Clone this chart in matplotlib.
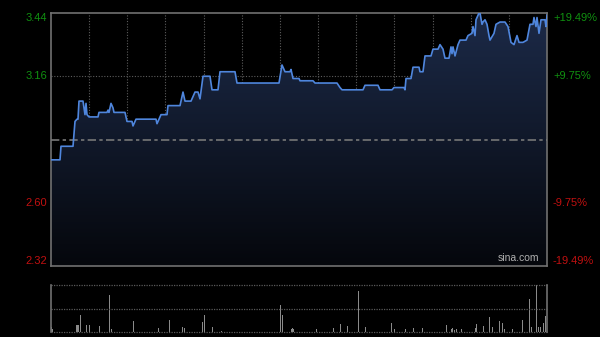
'''Intraday price and volume chart (sina.com style).'''

# ----------------------------------------------------------------------------
# Modules
from matplotlib import pyplot as plt
from matplotlib.colors import LinearSegmentedColormap
import numpy as np

# ----------------------------------------------------------------------------
# Data

prev_close = 2.88
price_ticks = [3.44, 3.16, 2.60, 2.32]
pct_labels = ['+19.49%', '+9.75%', '-9.75%', '-19.49%']
n_ticks = 496

price_t = [0, 9, 10, 22, 24, 26, 27, 28, 32, 34, 35, 36, 38, 47, 48, 56, 57,
           58, 60, 62, 63, 74, 76, 81, 82, 85, 105, 106, 110, 116, 117, 129,
           132, 134, 140, 141, 144, 147, 149, 152, 159, 161, 167, 169, 184,
           186, 228, 231, 234, 239, 240, 242, 248, 249, 262, 264, 286, 289,
           291, 312, 314, 327, 329, 341, 343, 353, 354, 355, 360, 362, 368,
           369, 372, 374, 380, 382, 387, 389, 392, 394, 398, 400, 401, 402,
           404, 407, 409, 415, 417, 421, 422, 424, 425, 428, 429, 431, 432,
           434, 436, 438, 439, 443, 445, 449, 454, 457, 460, 463, 466, 468,
           472, 476, 479, 482, 483, 485, 486, 488, 490, 494, 495, 496]
price = [2.79, 2.79, 2.85, 2.85, 2.96, 2.97, 2.97, 3.05, 3.05, 2.99, 3.04,
         2.99, 2.98, 2.98, 3.00, 3.00, 3.01, 3.00, 3.04, 3.02, 3.00, 3.00,
         2.96, 2.96, 2.94, 2.97, 2.97, 2.95, 2.99, 2.99, 3.03, 3.03, 3.09,
         3.05, 3.05, 3.06, 3.09, 3.09, 3.06, 3.16, 3.16, 3.10, 3.10, 3.18,
         3.18, 3.13, 3.13, 3.21, 3.18, 3.18, 3.19, 3.15, 3.15, 3.14, 3.14,
         3.13, 3.13, 3.11, 3.10, 3.10, 3.12, 3.12, 3.10, 3.10, 3.11, 3.11,
         3.10, 3.15, 3.15, 3.20, 3.20, 3.18, 3.18, 3.25, 3.25, 3.28, 3.28,
         3.30, 3.28, 3.24, 3.24, 3.29, 3.26, 3.29, 3.25, 3.30, 3.32, 3.32,
         3.34, 3.35, 3.38, 3.34, 3.41, 3.44, 3.44, 3.39, 3.40, 3.41, 3.39,
         3.34, 3.32, 3.35, 3.39, 3.40, 3.40, 3.38, 3.31, 3.30, 3.34, 3.31,
         3.31, 3.32, 3.39, 3.39, 3.42, 3.38, 3.42, 3.35, 3.41, 3.41, 3.38,
         3.43]

vol_t = [0, 1, 25, 26, 27, 29, 35, 38, 48, 58, 60, 82, 107, 118, 131, 133,
         151, 153, 161, 170, 229, 231, 240, 241, 242, 265, 282, 289, 296, 307,
         314, 340, 343, 354, 362, 371, 395, 400, 401, 403, 405, 410, 424, 425,
         432, 438, 441, 448, 451, 453, 461, 471, 478, 480, 485, 487, 489, 492,
         494, 496]
volume = [5, 3, 7, 7, 7, 17, 7, 7, 6, 37, 3, 11, 4, 12, 5, 4,
          10, 17, 5, 1, 27, 17, 3, 4, 3, 3, 4, 8, 6, 41,
          5, 9, 3, 3, 4, 4, 7, 3, 4, 2, 3, 3, 4, 8,
          6, 15, 5, 11, 9, 3, 3, 12, 33, 5, 47, 5, 5, 9,
          16, 21]

# ----------------------------------------------------------------------------


def intraday_plot():
    """Plots the intraday price line with a gradient fill and the volume."""

    fig = plt.figure(figsize=(6, 3.37), dpi=100, facecolor='black')
    ax = fig.add_axes([51 / 600, 1 - 266 / 337, 496 / 600, 253 / 337])
    ax_v = fig.add_axes([51 / 600, 1 - 332 / 337, 496 / 600, 47 / 337])

    y_min, y_max = price_ticks[-1], price_ticks[0]
    grid_kw = dict(color='#5c5c5c', lw=0.8, ls=(0, (1, 1.5)))

    # Price panel
    ax.set_facecolor('black')
    ax.set_xlim(0, n_ticks)
    ax.set_ylim(y_min, y_max)
    for i in range(1, 13):
        ax.axvline(n_ticks * i / 13, **grid_kw, zorder=1)
    for val in price_ticks[1:3]:
        ax.axhline(val, **grid_kw, zorder=1)
    ax.axhline(prev_close, color='#777777', lw=1.2, ls=(0, (5, 2, 2, 2)),
               zorder=4)

    cmap = LinearSegmentedColormap.from_list('fill', ['#05070c', '#1c2a48'])
    grad = np.linspace(0, 1, 256).reshape(-1, 1)
    img = ax.imshow(grad, cmap=cmap, aspect='auto', origin='lower',
                    extent=[0, n_ticks, y_min, y_max], zorder=2)
    poly = ax.fill_between(price_t, price, y_min, color='none', lw=0)
    img.set_clip_path(poly.get_paths()[0], transform=ax.transData)
    ax.plot(price_t, price, color='#4f86dd', lw=1.2, zorder=5)

    for side in ['left', 'right', 'top', 'bottom']:
        ax.spines[side].set_color('#707070')
        ax.spines[side].set_linewidth(1.2)
    ax.set_xticks([])
    ax.set_yticks([])

    # Axis labels
    font = dict(family='Liberation Sans', fontsize=8)
    colors = ['#109010', '#109010', '#c01010', '#c01010']
    valigns = ['top', 'center', 'center', 'bottom']
    for val, pct, col, va in zip(price_ticks, pct_labels, colors, valigns):
        ax.text(-0.008, val, '{:.2f}'.format(val), color=col, ha='right',
                va=va, transform=ax.get_yaxis_transform(), **font)
        ax.text(1.012, val, pct, color=col, ha='left', va=va,
                transform=ax.get_yaxis_transform(), **font)
    ax.text(0.985, 0.012, 'sina.com', color='#b0b0b0', ha='right',
            va='bottom', transform=ax.transAxes, zorder=6,
            family='Liberation Sans', fontsize=7.5)

    # Volume panel
    ax_v.set_facecolor('black')
    ax_v.set_xlim(0, n_ticks)
    ax_v.set_ylim(0, max(volume))
    ax_v.bar(vol_t, volume, width=1.0, color='#8a8a8a', lw=0)
    for val in [0, max(volume) / 2, max(volume)]:
        ax_v.axhline(val, color='#5a5a5a', lw=0.9, ls=(0, (1, 1)),
                     clip_on=False)
    for side in ['top', 'bottom']:
        ax_v.spines[side].set_visible(False)
    for side in ['left', 'right']:
        ax_v.spines[side].set_color('#707070')
        ax_v.spines[side].set_linewidth(1.2)
    ax_v.set_xticks([])
    ax_v.set_yticks([])

    fig.savefig('out.png', dpi=100, facecolor='black')

    return None

# ----------------------------------------------------------------------------


def main():

    intraday_plot()

    return None

# ----------------------------------------------------------------------------


if __name__ == "__main__":
    main()
